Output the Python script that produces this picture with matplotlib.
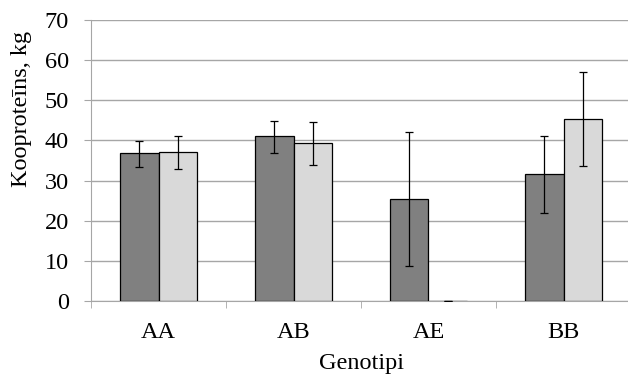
import matplotlib
matplotlib.use("Agg")
import matplotlib.pyplot as plt
import numpy as np

categories = ["AA", "AB", "AE", "BB"]
series1 = [36.9, 41.0, 25.4, 31.6]
series1_lo = [33.5, 36.9, 8.7, 22.0]
series1_hi = [39.9, 44.8, 42.2, 41.0]
series2 = [37.2, 39.3, 0.0, 45.4]
series2_lo = [32.9, 34.0, 0.0, 33.6]
series2_hi = [41.0, 44.5, 0.0, 57.0]

plt.rcParams['font.family'] = ['Liberation Serif', 'DejaVu Serif']
FS = 17.5

fig = plt.figure(figsize=(6.28, 3.76), dpi=100)
ax = fig.add_axes([91/628, 1-301/376, 540/628, 281/376])

x = np.arange(len(categories))
w = 0.285
e1 = [np.array(series1) - np.array(series1_lo), np.array(series1_hi) - np.array(series1)]
e2 = [np.array(series2) - np.array(series2_lo), np.array(series2_hi) - np.array(series2)]
ax.bar(x - w/2, series1, w, color='#808080', edgecolor='black', linewidth=0.9, zorder=3)
ax.bar(x + w/2, series2, w, color='#d9d9d9', edgecolor='black', linewidth=0.9, zorder=3)
ax.errorbar(x - w/2, series1, yerr=e1, fmt='none', ecolor='black', elinewidth=0.9, capsize=2.8, capthick=0.9, zorder=4)
ax.errorbar(x + w/2, series2, yerr=e2, fmt='none', ecolor='black', elinewidth=0.9, capsize=2.8, capthick=0.9, zorder=4)

ax.set_xlim(-0.5, 3.5)
ax.set_ylim(0, 70)
ax.set_yticks(range(0, 71, 10))
ax.yaxis.grid(True, color='#a6a6a6', linewidth=1.0, zorder=0)
ax.set_axisbelow(True)
ax.set_xticks(x)
ax.set_xticklabels(categories)
ax.set_xticks(np.arange(-0.5, 4.0, 1.0), minor=True)
ax.tick_params(axis='x', which='major', length=0, labelsize=FS, pad=15)
ax.tick_params(axis='x', which='minor', length=5, color='#a6a6a6', direction='out')
ax.tick_params(axis='y', length=5, color='#a6a6a6', labelsize=FS, pad=11)
for s in ['top', 'right']:
    ax.spines[s].set_visible(False)
ax.spines['left'].set_color('#a6a6a6')
ax.spines['bottom'].set_color('#a6a6a6')
ax.set_ylabel('Kooproteīns, kg', fontsize=FS, va='center')
ax.yaxis.set_label_coords((22-91)/540, (301-109)/281)
ax.set_xlabel('Genotipi', fontsize=FS, va='center')
ax.xaxis.set_label_coords((362-91)/540, (301-364)/281)

fig.savefig('out.png', dpi=100)
